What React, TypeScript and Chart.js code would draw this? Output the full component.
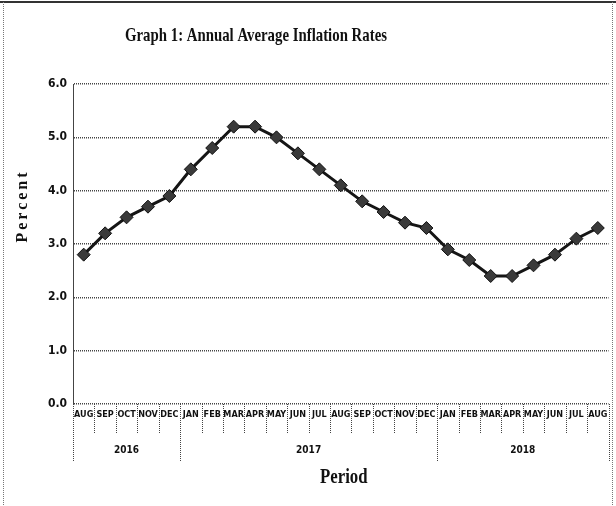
import React, { useEffect, useRef } from "react";
import { Chart, registerables } from "chart.js";

Chart.register(...registerables);

const chartTitle = "Graph 1: Annual Average Inflation Rates";
const yAxisTitle = "Percent";
const xAxisTitle = "Period";
const months = [
  "AUG", "SEP", "OCT", "NOV", "DEC",
  "JAN", "FEB", "MAR", "APR", "MAY", "JUN", "JUL", "AUG", "SEP", "OCT", "NOV", "DEC",
  "JAN", "FEB", "MAR", "APR", "MAY", "JUN", "JUL", "AUG",
];
const inflation = [
  2.8, 3.2, 3.5, 3.7, 3.9,
  4.4, 4.8, 5.2, 5.2, 5.0, 4.7, 4.4, 4.1, 3.8, 3.6, 3.4, 3.3,
  2.9, 2.7, 2.4, 2.4, 2.6, 2.8, 3.1, 3.3,
];
const years = ["2016", "2017", "2018"];
const yearSpans = [5, 12, 8];
const yTicks = [0, 1, 2, 3, 4, 5, 6];

const narrow = '"Liberation Sans Narrow", "DejaVu Sans Condensed", "Liberation Sans", sans-serif';
const serif = '"Liberation Serif", "DejaVu Serif", serif';

const decorPlugin = {
  id: "decor",
  beforeDraw(chart: any) {
    const ctx = chart.ctx;
    const W = chart.width;
    const H = chart.height;
    ctx.save();
    ctx.fillStyle = "#ffffff";
    ctx.fillRect(0, 0, W, H);
    ctx.strokeStyle = "#333";
    ctx.lineWidth = 2;
    ctx.beginPath();
    ctx.moveTo(0, 2);
    ctx.lineTo(W, 2);
    ctx.stroke();
    ctx.strokeStyle = "#777";
    ctx.lineWidth = 1;
    ctx.setLineDash([1, 1]);
    ctx.beginPath();
    ctx.moveTo(3.5, 2);
    ctx.lineTo(3.5, H);
    ctx.moveTo(W - 3.5, 2);
    ctx.lineTo(W - 3.5, H);
    ctx.stroke();
    ctx.restore();
  },
  afterDraw(chart: any) {
    const ctx = chart.ctx;
    const xs = chart.scales.x;
    const area = chart.chartArea;
    const bottom = area.bottom;
    const cw = xs.getPixelForValue(1) - xs.getPixelForValue(0);
    const edge = (i: number) => xs.getPixelForValue(i) - cw / 2;
    ctx.save();
    ctx.strokeStyle = "#444";
    ctx.lineWidth = 1;
    ctx.setLineDash([1, 1]);
    ctx.beginPath();
    for (let i = 0; i <= months.length; i++) {
      const x = Math.round(edge(i)) + 0.5;
      ctx.moveTo(x, bottom);
      ctx.lineTo(x, bottom + 30);
    }
    ctx.stroke();
    ctx.beginPath();
    let idx = 0;
    const bounds = [0];
    yearSpans.forEach((s) => {
      idx += s;
      bounds.push(idx);
    });
    bounds.forEach((b) => {
      const x = Math.round(edge(b)) + 0.5;
      ctx.moveTo(x, bottom);
      ctx.lineTo(x, bottom + 58);
    });
    ctx.stroke();
    ctx.setLineDash([]);
    ctx.fillStyle = "#111";
    ctx.font = `bold 10px ${narrow}`;
    ctx.textAlign = "center";
    ctx.textBaseline = "middle";
    years.forEach((y, i) => {
      const x = (edge(bounds[i]) + edge(bounds[i + 1])) / 2;
      ctx.fillText(y, x, bottom + 46);
    });
    ctx.save();
    ctx.font = `bold 19px ${serif}`;
    ctx.translate(256, 36);
    ctx.scale(0.78, 1);
    ctx.fillText(chartTitle, 0, 0);
    ctx.restore();
    ctx.save();
    ctx.font = `bold 21px ${serif}`;
    ctx.translate((area.left + area.right) / 2 + 3, bottom + 74);
    ctx.scale(0.8, 1);
    ctx.fillText(xAxisTitle, 0, 0);
    ctx.restore();
    ctx.save();
    ctx.font = `bold 16px ${serif}`;
    (ctx as any).letterSpacing = "3px";
    ctx.translate(23, 206);
    ctx.rotate(-Math.PI / 2);
    ctx.fillText(yAxisTitle, 0, 0);
    ctx.restore();
    ctx.restore();
  },
};

export default function App() {
  const ref = useRef<HTMLCanvasElement | null>(null);
  useEffect(() => {
    if (!ref.current) return;
    const chart = new Chart(ref.current, {
      type: "line",
      data: {
        labels: months,
        datasets: [
          {
            data: inflation,
            borderColor: "#151515",
            borderWidth: 3,
            pointStyle: "rectRot",
            pointRadius: 6.5,
            pointBackgroundColor: "#3a3a3a",
            pointBorderColor: "#111",
            pointBorderWidth: 1,
            tension: 0,
          },
        ],
      },
      options: {
        responsive: false,
        animation: false,
        devicePixelRatio: 1,
        layout: { padding: { top: 84, right: 4, left: 0, bottom: 0 } },
        plugins: { legend: { display: false }, title: { display: false }, tooltip: { enabled: false } },
        scales: {
          x: {
            offset: true,
            grid: { display: false, drawOnChartArea: false, drawTicks: false },
            border: { display: false },
            ticks: {
              autoSkip: false,
              maxRotation: 0,
              padding: 5,
              color: "#111",
              font: { family: narrow, size: 9, weight: "bold" },
            },
            afterFit: (s: any) => {
              s.height = 102;
            },
          },
          y: {
            min: 0,
            max: 6,
            afterBuildTicks: (s: any) => {
              s.ticks = yTicks.map((v) => ({ value: v }));
            },
            grid: {
              color: "#444",
              lineWidth: 1.5,
              drawTicks: false,
            },
            border: { display: true, color: "#444", width: 1, dash: [1, 1] },
            ticks: {
              padding: 6,
              color: "#111",
              font: { family: narrow, size: 12, weight: "bold" },
              callback: (v: any) => Number(v).toFixed(1),
            },
            afterFit: (s: any) => {
              s.width = 73;
            },
          },
        },
      },
      plugins: [decorPlugin],
    });
    return () => chart.destroy();
  }, []);
  return (
    <div style={{ position: "fixed", left: 0, top: 0, width: 616, height: 506, background: "#fff" }}>
      <canvas ref={ref} width={616} height={506} style={{ display: "block" }} />
    </div>
  );
}
